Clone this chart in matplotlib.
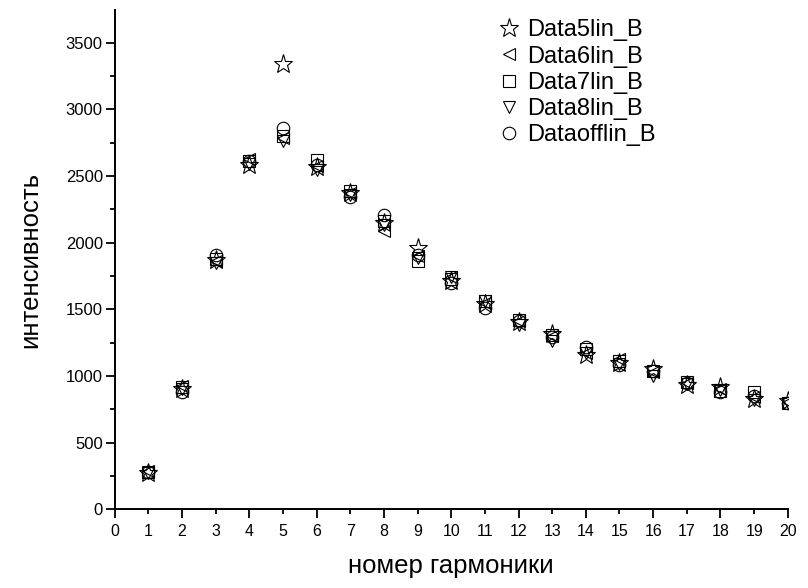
import matplotlib
matplotlib.use("Agg")
import matplotlib.pyplot as plt
from matplotlib.ticker import MultipleLocator, FuncFormatter

plt.rcParams['font.family'] = ['Liberation Sans', 'DejaVu Sans']

harmonics = list(range(1, 21))
data5 = [275, 905, 1870, 2580, 3342, 2565, 2375, 2145, 1957, 1715, 1540, 1405, 1315, 1160, 1100, 1055, 930, 920, 825, 810]
data6 = [285, 925, 1860, 2630, 2785, 2575, 2370, 2085, 1900, 1740, 1545, 1410, 1300, 1170, 1125, 1030, 945, 900, 845, 805]
data7 = [280, 920, 1875, 2610, 2800, 2620, 2385, 2160, 1860, 1725, 1560, 1420, 1310, 1200, 1115, 1040, 955, 885, 880, 800]
data8 = [270, 900, 1850, 2590, 2760, 2545, 2355, 2130, 1885, 1745, 1565, 1385, 1260, 1175, 1090, 1000, 940, 895, 822, 795]
dataoff = [280, 882, 1908, 2615, 2862, 2582, 2345, 2205, 1905, 1697, 1510, 1415, 1295, 1218, 1080, 1035, 950, 880, 852, 795]

series_names = ["Data5lin_B", "Data6lin_B", "Data7lin_B", "Data8lin_B", "Dataofflin_B"]
series_values = [data5, data6, data7, data8, dataoff]
markers = ['*', '<', 's', 'v', 'o']
sizes = [14, 9, 8, 9, 9]

fig = plt.figure(figsize=(8.08, 5.88), dpi=100)
ax = fig.add_axes([0.1418, 0.1338, 0.975 - 0.1418, 0.983 - 0.1338])

for name, vals, m, s in zip(series_names, series_values, markers, sizes):
    ax.plot(harmonics, vals, linestyle='none', marker=m, markersize=s,
            markerfacecolor='none', markeredgecolor='black', markeredgewidth=0.8,
            label=name)

ax.set_xlim(0, 20)
ax.set_ylim(0, 3745)

for side in ['top', 'right']:
    ax.spines[side].set_visible(False)
for side in ['left', 'bottom']:
    ax.spines[side].set_linewidth(1.4)

ax.xaxis.set_major_locator(MultipleLocator(2))
ax.xaxis.set_minor_locator(MultipleLocator(1))
ax.xaxis.set_minor_formatter(FuncFormatter(lambda v, p: f"{int(round(v))}" if int(round(v)) % 2 == 1 else ""))
ax.yaxis.set_major_locator(MultipleLocator(500))
ax.yaxis.set_minor_locator(MultipleLocator(250))

ax.tick_params(axis='x', which='major', direction='out', length=6.5, width=1.3, labelsize=11.5, pad=4)
ax.tick_params(axis='y', which='major', direction='out', length=6.5, width=1.3, labelsize=12, pad=2)
ax.tick_params(axis='x', which='minor', direction='out', length=3.5, width=1.3, labelsize=11.5, pad=7)
ax.tick_params(axis='y', which='minor', direction='out', length=3.5, width=1.3)

ax.set_xlabel("номер гармоники", fontsize=18.5)
ax.set_ylabel("интенсивность", fontsize=18.5)
ax.xaxis.set_label_coords(0.5, -0.1136)
ax.xaxis.label.set_va('center')
ax.yaxis.set_label_coords(-0.1256, 0.5)
ax.yaxis.label.set_va('center')

leg = ax.legend(loc='upper left', bbox_to_anchor=(0.555, 1.0), frameon=False,
                fontsize=17, handletextpad=0.25, labelspacing=0.18,
                handlelength=1.0, borderaxespad=0)

fig.savefig("out.png", dpi=100)
